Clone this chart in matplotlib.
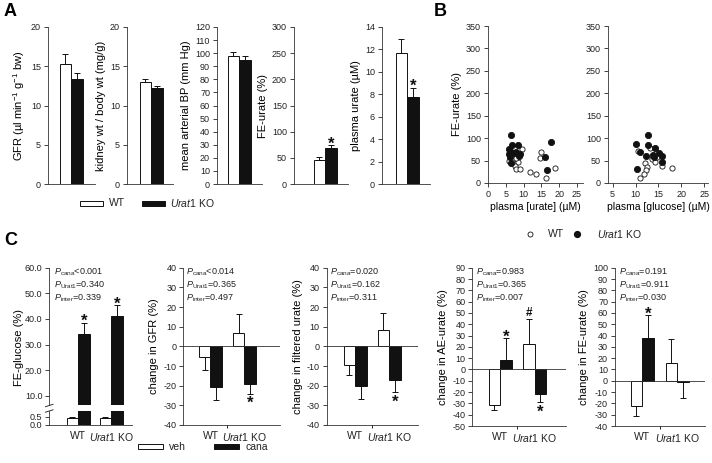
import matplotlib
matplotlib.use("Agg")
import matplotlib.pyplot as plt
from matplotlib.patches import Rectangle
from matplotlib.lines import Line2D

plt.rcParams['font.family'] = ['Liberation Sans', 'DejaVu Sans']
plt.rcParams['mathtext.fontset'] = 'custom'
plt.rcParams['mathtext.rm'] = 'Liberation Sans'
plt.rcParams['mathtext.it'] = 'Liberation Sans:italic'
plt.rcParams['mathtext.bf'] = 'Liberation Sans:bold'
plt.rcParams['axes.linewidth'] = 0.6
plt.rcParams['axes.unicode_minus'] = False
plt.rcParams['font.size'] = 7
plt.rcParams['text.color'] = '#222222'
plt.rcParams['axes.edgecolor'] = '#333333'

W, H = 712, 463
fig = plt.figure(figsize=(W / 100, H / 100), dpi=100)

# ---- panel A: WT vs Urat1 KO ----
gfr = [15.3, 13.4]
gfr_sem = [1.2, 0.8]
kidney_wt = [13.0, 12.2]
kidney_wt_sem = [0.4, 0.3]
map_bp = [98, 94.5]
map_bp_sem = [3, 3]
fe_urate = [45, 69]
fe_urate_sem = [6, 5]
plasma_urate = [11.7, 7.8]
plasma_urate_sem = [1.2, 0.8]

# ---- panel B: scatter ----
wt_urate_x = [9.6, 5.8, 6.9, 8.3, 7.5, 7.9, 8.9, 11.9, 13.6, 15.0, 14.7, 16.3, 18.9, 7.8]
wt_urate_y = [76, 48, 44, 46, 37, 31, 31, 24, 19, 70, 55, 11, 34, 55]
ko_urate_x = [6.5, 6.7, 8.3, 5.8, 6.3, 7.2, 8.6, 9.1, 6.3, 6.5, 17.8, 15.9, 16.6, 5.9, 7.9]
ko_urate_y = [106, 84, 84, 65, 72, 66, 61, 65, 59, 45, 91, 59, 28, 75, 70]
wt_gluc_x = [10.6, 13.1, 12.0, 12.5, 12.3, 11.8, 10.9, 13.6, 14.3, 14.7, 15.7, 18.0]
wt_gluc_y = [72, 78, 44, 35, 28, 20, 11, 54, 46, 57, 38, 33]
ko_gluc_x = [10.1, 10.9, 12.7, 12.8, 12.2, 13.8, 14.0, 14.3, 15.2, 15.7, 15.8, 10.4]
ko_gluc_y = [86, 69, 106, 85, 61, 63, 59, 78, 67, 61, 46, 31]

# ---- panel C: veh vs cana, per genotype ----
genotypes = ["WT", r"$\mathit{Urat1}$ KO"]
fe_glucose_veh = [0.42, 0.42]
fe_glucose_veh_sem = [0.05, 0.05]
fe_glucose_cana = [34, 41]
fe_glucose_cana_sem = [4.5, 4.5]
gfr_chg_veh = [-5.5, 7.0]
gfr_chg_veh_sem = [6.3, 9.3]
gfr_chg_cana = [-20.5, -19.0]
gfr_chg_cana_sem = [7.0, 5.0]
filt_chg_veh = [-9.5, 8.5]
filt_chg_veh_sem = [5.3, 8.7]
filt_chg_cana = [-20.2, -17.1]
filt_chg_cana_sem = [6.7, 6.3]
ae_chg_veh = [-31.6, 22.4]
ae_chg_veh_sem = [4.4, 22.6]
ae_chg_cana = [8.8, -22.1]
ae_chg_cana_sem = [18.6, 6.5]
fe_chg_veh = [-22.3, 15.5]
fe_chg_veh_sem = [8.8, 21.2]
fe_chg_cana = [37.6, -0.8]
fe_chg_cana_sem = [20.6, 14.7]

p_glucose = ["<0.001", "=0.340", "=0.339"]
p_gfr = ["<0.014", "=0.365", "=0.497"]
p_filt = ["=0.020", "=0.162", "=0.311"]
p_ae = ["=0.983", "=0.365", "=0.007"]
p_fe = ["=0.191", "=0.911", "=0.030"]

BW = 11.5  # bar width in px
BLACK = '#111111'
LAB = 8


def add_ax(x0, x1, ytop, ybot):
    return fig.add_axes([x0 / W, 1 - ybot / H, (x1 - x0) / W, (ybot - ytop) / H])


def style(ax):
    ax.spines['top'].set_visible(False)
    ax.spines['right'].set_visible(False)
    ax.tick_params(axis='both', direction='out', length=3, width=0.6, pad=2,
                   labelsize=6.5, colors='#222222')


def bar_err(ax, x, val, err, color):
    ax.bar(x, val, width=BW, color=color, edgecolor=BLACK, linewidth=0.7, zorder=2)
    lo, hi = (0, err) if val >= 0 else (err, 0)
    ax.errorbar(x, val, yerr=[[lo], [hi]], fmt='none', ecolor=BLACK,
                elinewidth=0.7, capsize=2.5, capthick=0.7, zorder=3)


def mark(ax, x, val, err, sym='*', size=12):
    if val >= 0:
        ax.annotate(sym, (x, val + err), xytext=(0, -2.5 if sym == '*' else 1.5),
                    textcoords='offset points', ha='center', va='baseline',
                    fontsize=size, fontweight='bold', color=BLACK)
    else:
        ax.annotate(sym, (x, val - err), xytext=(0, -10.5),
                    textcoords='offset points', ha='center', va='baseline',
                    fontsize=size, fontweight='bold', color=BLACK)


def fig_text(x, y, s, **kw):
    fig.text(x / W, 1 - y / H, s, **kw)


# ---------------- panel A ----------------
a_panels = [
    (48, 95, 71, gfr, gfr_sem, 20, 5, r"GFR (µl min$^{-1}$ g$^{-1}$ bw)", False),
    (127, 173, 151, kidney_wt, kidney_wt_sem, 20, 5, "kidney wt / body wt (mg/g)", False),
    (217, 262, 239, map_bp, map_bp_sem, 120, 10, "mean arterial BP (mm Hg)", False),
    (294, 348, 325, fe_urate, fe_urate_sem, 300, 50, "FE-urate (%)", True),
    (382, 430, 407, plasma_urate, plasma_urate_sem, 14, 2, "plasma urate (µM)", True),
]
for x0, x1, cx, vals, errs, top, step, lab, star in a_panels:
    ax = add_ax(x0, x1, 27, 184)
    style(ax)
    ax.set_xlim(x0, x1)
    ax.set_ylim(0, top)
    ax.set_yticks(range(0, top + 1, step))
    ax.set_xticks([])
    xs = [cx - BW / 2, cx + BW / 2]
    bar_err(ax, xs[0], vals[0], errs[0], 'white')
    bar_err(ax, xs[1], vals[1], errs[1], BLACK)
    if star:
        mark(ax, xs[1], vals[1], errs[1])
    ax.set_ylabel(lab, fontsize=LAB, labelpad=3)

# legend A
fig.patches.append(Rectangle((80 / W, 1 - 206 / H), 23 / W, 5 / H, transform=fig.transFigure,
                             facecolor='white', edgecolor=BLACK, linewidth=0.7))
fig_text(109, 203, "WT", fontsize=7.5, va='center')
fig.patches.append(Rectangle((142 / W, 1 - 206 / H), 23 / W, 5 / H, transform=fig.transFigure,
                             facecolor=BLACK, edgecolor=BLACK, linewidth=0.7))
fig_text(170, 203, r"$\mathit{Urat1}$ KO", fontsize=7.5, va='center')

# ---------------- panel B ----------------
b_panels = [
    (488, 583, (0, 26.7), range(0, 26, 5), wt_urate_x, wt_urate_y, ko_urate_x, ko_urate_y,
     "plasma [urate] (µM)", "FE-urate (%)"),
    (608, 708, (4.0, 25.8), range(5, 26, 5), wt_gluc_x, wt_gluc_y, ko_gluc_x, ko_gluc_y,
     "plasma [glucose] (µM)", None),
]
for x0, x1, xl, xt, wx, wy, kx, ky, xlab, ylab in b_panels:
    ax = add_ax(x0, x1, 26, 183)
    style(ax)
    ax.set_xlim(*xl)
    ax.set_ylim(0, 350)
    ax.set_xticks(list(xt))
    ax.set_yticks(range(0, 351, 50))
    ax.scatter(wx, wy, s=14, facecolors='white', edgecolors=BLACK, linewidths=0.6, zorder=3)
    ax.scatter(kx, ky, s=20, facecolors=BLACK, edgecolors=BLACK, linewidths=0.6, zorder=3)
    ax.set_xlabel(xlab, fontsize=7.5, labelpad=2)
    if ylab:
        ax.set_ylabel(ylab, fontsize=LAB, labelpad=3)

# legend B
fig.add_artist(Line2D([530 / W], [1 - 234 / H], marker='o', markersize=3.6, markerfacecolor='white',
                      markeredgecolor=BLACK, markeredgewidth=0.6, transform=fig.transFigure))
fig_text(548, 234, "WT", fontsize=7.5, va='center')
fig.add_artist(Line2D([577 / W], [1 - 234 / H], marker='o', markersize=4.2, markerfacecolor=BLACK,
                      markeredgecolor=BLACK, transform=fig.transFigure))
fig_text(597, 234, r"$\mathit{Urat1}$ KO", fontsize=7.5, va='center')

# ---------------- panel C ----------------
def p_block(x, vals):
    names = ["cana", "Urat1", "inter"]
    for i, (n, v) in enumerate(zip(names, vals)):
        fig_text(x, 275 + 12.5 * i, r"$\mathit{P}_{\mathrm{%s}}$%s" % (n, v), fontsize=6.5,
                 va='baseline')


# C1: broken axis FE-glucose
c1x0, c1x1 = 49.3, 132
c1_centers = [78, 111]
ax_up = add_ax(c1x0, c1x1, 267.7, 405)
ax_lo = add_ax(c1x0, c1x1, 411, 425)
for ax in (ax_up, ax_lo):
    style(ax)
    ax.set_xlim(c1x0, c1x1)
ax_up.spines['bottom'].set_visible(False)
ax_up.set_xticks([])
ax_up.set_ylim(6.4, 60)
ax_up.set_yticks(range(10, 61, 10))
ax_up.set_yticklabels(["%.1f" % t for t in range(10, 61, 10)])
ax_lo.set_ylim(0, 0.84)
ax_lo.set_yticks([0, 0.5])
ax_lo.set_yticklabels(["0.0", "0.5"])
for i, c in enumerate(c1_centers):
    xv, xc = c - BW / 2, c + BW / 2
    for ax in (ax_up, ax_lo):
        ax.bar(xv, fe_glucose_veh[i], width=BW, color='white', edgecolor=BLACK, linewidth=0.7)
        ax.bar(xc, fe_glucose_cana[i], width=BW, color=BLACK, edgecolor=BLACK, linewidth=0.7)
    ax_lo.errorbar(xv, fe_glucose_veh[i], yerr=[[0], [fe_glucose_veh_sem[i]]], fmt='none',
                   ecolor=BLACK, elinewidth=0.7, capsize=2.5, capthick=0.7)
    ax_up.errorbar(xc, fe_glucose_cana[i], yerr=[[0], [fe_glucose_cana_sem[i]]], fmt='none',
                   ecolor=BLACK, elinewidth=0.7, capsize=2.5, capthick=0.7)
    mark(ax_up, xc, fe_glucose_cana[i], fe_glucose_cana_sem[i])
ax_lo.set_xticks(c1_centers)
ax_lo.set_xticklabels(genotypes, fontsize=7.5)
ax_lo.tick_params(axis='x', length=0, pad=4)
ax_up.set_ylabel("FE-glucose (%)", fontsize=LAB)
ax_up.yaxis.set_label_coords(-0.3, 0.42)
for yb in (405.5, 411):
    fig.add_artist(Line2D([45.5 / W, 53 / W], [1 - (yb + 1.2) / H, 1 - (yb - 1.2) / H],
                          color='#333333', linewidth=0.7, transform=fig.transFigure))
p_block(54, p_glucose)

# C2-C5: change panels
c_panels = [
    (183.3, 280, 425, (-40, 40), 10, [210.5, 244.5], gfr_chg_veh, gfr_chg_veh_sem,
     gfr_chg_cana, gfr_chg_cana_sem, "change in GFR (%)", [(1, 'cana', '*')], p_gfr, 186),
    (326.7, 418, 425, (-40, 40), 10, [355, 389], filt_chg_veh, filt_chg_veh_sem,
     filt_chg_cana, filt_chg_cana_sem, "change in filtered urate (%)", [(1, 'cana', '*')],
     p_filt, 330),
    (472.3, 566, 426, (-50, 90), 10, [500, 534.5], ae_chg_veh, ae_chg_veh_sem,
     ae_chg_cana, ae_chg_cana_sem, "change in AE-urate (%)",
     [(0, 'cana', '*'), (1, 'veh', '#'), (1, 'cana', '*')], p_ae, 476.5),
    (615, 705, 426, (-40, 100), 10, [642, 677], fe_chg_veh, fe_chg_veh_sem,
     fe_chg_cana, fe_chg_cana_sem, "change in FE-urate (%)", [(0, 'cana', '*')], p_fe, 619),
]
for (x0, x1, yb, yl, step, centers, veh, veh_e, cana, cana_e, lab, marks,
     pv, px) in c_panels:
    ax = add_ax(x0, x1, 267.7, yb)
    style(ax)
    ax.set_xlim(x0, x1)
    ax.set_ylim(*yl)
    ax.set_yticks(range(yl[0], yl[1] + 1, step))
    ax.axhline(0, color='#333333', linewidth=0.6, zorder=4)
    for i, c in enumerate(centers):
        bar_err(ax, c - BW / 2, veh[i], veh_e[i], 'white')
        bar_err(ax, c + BW / 2, cana[i], cana_e[i], BLACK)
    for gi, which, sym in marks:
        if which == 'veh':
            mark(ax, centers[gi] - BW / 2, veh[gi], veh_e[gi], sym, size=8.5)
        else:
            mark(ax, centers[gi] + BW / 2, cana[gi], cana_e[gi], sym)
    ax.set_xticks(centers)
    ax.set_xticklabels(genotypes, fontsize=7.5)
    ax.tick_params(axis='x', length=0, pad=4)
    ax.set_xticks([(centers[0] + centers[1]) / 2], minor=True)
    ax.tick_params(axis='x', which='minor', length=2.5, width=0.6)
    ax.set_ylabel(lab, fontsize=LAB, labelpad=3)
    p_block(px, pv)

# legend C
fig.patches.append(Rectangle((138 / W, 1 - 449 / H), 25 / W, 5 / H, transform=fig.transFigure,
                             facecolor='white', edgecolor=BLACK, linewidth=0.7))
fig_text(169, 446.5, "veh", fontsize=7.5, va='center')
fig.patches.append(Rectangle((214 / W, 1 - 449 / H), 25 / W, 5 / H, transform=fig.transFigure,
                             facecolor=BLACK, edgecolor=BLACK, linewidth=0.7))
fig_text(245, 446.5, "cana", fontsize=7.5, va='center')

# panel letters
fig_text(4, 11, "A", fontsize=13, fontweight='bold', va='center', color='black')
fig_text(434, 11, "B", fontsize=13, fontweight='bold', va='center', color='black')
fig_text(4, 241, "C", fontsize=13, fontweight='bold', va='center', color='black')

fig.savefig("out.png", dpi=100)
